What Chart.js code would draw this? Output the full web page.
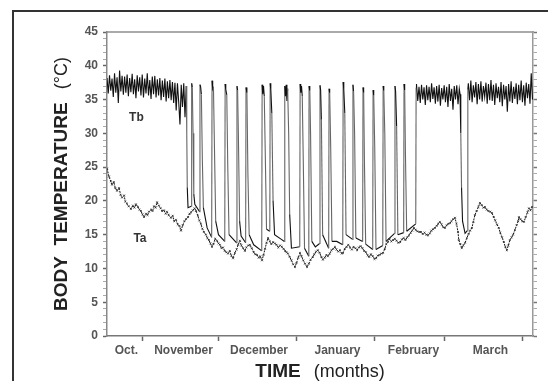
<!DOCTYPE html>
<html>
<head>
<meta charset="utf-8">
<script src="https://cdn.jsdelivr.net/npm/chart.js@4.4.1/dist/chart.umd.min.js"></script>
<style>
    html, body { margin: 0; padding: 0; background: #fff; }
    #wrap { position: relative; width: 556px; height: 381px; overflow: hidden; }
    #frame { position: absolute; left: 12px; top: 10px; width: 534px; height: 380px;
             border-left: 2px solid #333; border-top: 2px solid #333; }
    canvas { position: absolute; left: 0; top: 0; }
</style>
</head>
<body>
<div id="wrap">
    <div id="frame"></div>
    <canvas id="chart" width="556" height="381"></canvas>
</div>
<script>
// x is days counted from Oct 1 (Nov 1 = 31, Dec 1 = 61, ...)
const xMin = 16.7;
const xMax = 186;
const monthStarts = [31, 61, 92, 123, 151, 182];
const monthLabels = ["Oct.", "November", "December", "January", "February", "March"];
const monthLabelDays = [24.4, 47.1, 77.1, 108.3, 138.5, 169.1];

// logger step in the normothermic stretches (days)
const sampleStep = 0.5;

// Tb, normothermic Oct-Nov
const tbOctStart = 16.7;
const tbOctNov = [38.2, 35.9, 38.6, 36.3, 38.1, 35.4, 38.9, 36.0, 38.3, 34.5,
    39.3, 36.2, 38.5, 35.7, 38.4, 36.0, 38.7, 35.5, 38.2, 36.1,
    38.8, 35.8, 38.0, 35.2, 38.6, 36.2, 38.3, 35.6, 38.7, 35.3,
    38.1, 35.9, 38.9, 35.6, 37.9, 35.1, 38.4, 35.8, 38.5, 35.3,
    38.0, 35.6, 38.2, 34.9, 37.8, 35.4, 38.1, 34.7, 37.7, 35.2,
    37.9, 34.9, 37.6, 34.5, 37.5, 33.4, 37.4, 34.6, 31.3, 37.2,
    33.9, 37.4, 32.4, 37.0];

// Tb, torpor bouts with short arousals [day, °C]
const tbTorpor = [
    [48.4, 30.0], [48.6, 22.0], [48.9, 19.0], [50.2, 19.2],
    [50.35, 37.4], [50.6, 36.8], [50.9, 30.0], [51.2, 21.0], [51.6, 19.5], [53.5, 18.4],
    [53.65, 37.2], [53.9, 36.9], [54.2, 35.8], [54.6, 26.0], [55.0, 19.0], [56.5, 16.0], [58.3, 14.6],
    [58.45, 37.8], [58.7, 36.6], [59.0, 36.9], [59.4, 28.0], [59.9, 17.0], [61.0, 15.0], [63.5, 14.0],
    [63.65, 37.3], [63.9, 36.5], [64.3, 35.7], [64.7, 25.0], [65.2, 15.0], [68.2, 13.8],
    [68.35, 37.0], [68.6, 36.4], [68.9, 30.0], [69.4, 17.0], [70.0, 14.8], [71.8, 13.8],
    [71.95, 36.8], [72.3, 36.0], [72.7, 24.0], [73.2, 15.0], [75.0, 13.5], [78.2, 12.6],
    [78.35, 37.2], [78.6, 35.8], [78.9, 37.0], [79.2, 35.5], [79.6, 27.0], [80.1, 15.8], [81.4, 15.5],
    [81.55, 37.4], [81.8, 36.5], [82.2, 33.0], [82.7, 20.0], [83.3, 15.0], [86.0, 14.3], [87.2, 14.0],
    [87.35, 37.0], [87.6, 35.5], [87.9, 37.2], [88.2, 34.8], [88.5, 36.6], [88.9, 30.0], [89.3, 18.0], [90.0, 13.0], [93.3, 13.2],
    [93.45, 37.3], [93.7, 36.0], [94.0, 37.0], [94.3, 35.5], [94.7, 26.0], [95.2, 13.0], [96.9, 11.8],
    [97.0, 37.0], [97.3, 36.3], [97.6, 30.0], [98.1, 14.0], [99.5, 13.2], [101.2, 13.7],
    [101.35, 37.1], [101.6, 36.4], [101.9, 32.0], [102.4, 15.0], [104.8, 13.0],
    [104.95, 36.6], [105.2, 36.0], [105.6, 28.0], [106.1, 14.0], [108.0, 14.0], [110.4, 13.5],
    [110.55, 37.6], [110.8, 36.5], [111.2, 33.0], [111.7, 15.0], [114.3, 14.3],
    [114.45, 37.2], [114.7, 36.2], [115.1, 30.0], [115.6, 14.5], [118.3, 14.0],
    [118.45, 36.8], [118.7, 36.0], [119.0, 26.0], [119.5, 13.6], [122.3, 12.8],
    [122.45, 36.4], [122.7, 35.6], [123.1, 28.0], [123.6, 12.8], [126.3, 13.4],
    [126.45, 37.0], [126.7, 36.3], [127.1, 30.0], [127.6, 14.0], [131.0, 15.2],
    [131.15, 37.0], [131.4, 36.2], [131.8, 31.0], [132.3, 15.0], [134.6, 15.3],
    [134.75, 37.3], [135.0, 36.4], [135.3, 27.0], [135.8, 15.5], [139.4, 16.6],
    [139.55, 36.8]
];

// Tb, normothermic February
const tbFebStart = 139.7;
const tbFeb = [37.3, 34.8, 36.9, 34.5, 37.2, 35.0, 36.8, 34.2, 37.1, 34.9,
    36.9, 34.6, 37.4, 35.1, 36.8, 34.4, 37.0, 34.7, 37.2, 34.1,
    36.7, 35.0, 37.1, 34.6, 36.9, 33.9, 37.3, 34.8, 36.6, 33.5,
    37.0, 35.0, 37.1, 34.3, 36.6];

// Tb, last torpor bout late February
const tbLastBout = [[157.0, 35.8], [157.3, 30.0], [157.6, 22.0], [158.0, 17.0],
    [159.0, 15.2], [159.9, 15.6], [160.1, 36.5]];

// Tb, normothermic March
const tbMarStart = 160.3;
const tbMar = [37.4, 34.9, 37.8, 34.6, 37.1, 35.3, 37.6, 34.3, 37.3, 35.0,
    37.7, 34.7, 37.0, 35.4, 37.5, 34.4, 37.3, 34.9, 37.9, 34.8,
    37.2, 34.2, 37.4, 35.2, 36.9, 34.6, 37.6, 34.0, 37.2, 35.0,
    37.0, 33.2, 37.3, 34.7, 37.7, 34.5, 36.9, 35.1, 37.4, 34.3,
    37.2, 34.9, 37.8, 34.6, 37.1, 34.1, 37.5, 35.2, 37.3, 34.4,
    38.9, 35.0];

// Ta [day, °C]
const taReadings = [
    [16.7, 24.8], [17.5, 23.6], [18.2, 22.9], [18.7, 22.4], [19.4, 22.8], [20.0, 21.9], [20.7, 21.5],
    [21.5, 21.9], [22.1, 20.9], [22.7, 20.5], [23.5, 20.8], [24.0, 19.9], [24.6, 19.6], [25.3, 19.2],
    [26.2, 18.8], [27.0, 19.3], [27.6, 19.0], [28.2, 19.5], [29.0, 19.1], [29.6, 18.7], [30.2, 18.5],
    [30.8, 18.0], [31.4, 17.6], [32.2, 18.1], [32.8, 17.9], [33.4, 18.4], [34.2, 18.7], [34.8, 18.5],
    [35.4, 19.2], [36.0, 19.0], [36.6, 19.8], [37.3, 19.3], [38.0, 18.9], [38.6, 18.5], [39.3, 18.6],
    [40.0, 18.1], [40.5, 18.4], [41.2, 17.9], [42.1, 17.5], [42.8, 17.8], [43.4, 17.0], [44.1, 17.2],
    [44.8, 16.5], [45.5, 16.3], [46.1, 15.6], [46.8, 16.4], [47.5, 17.0], [48.1, 17.3], [48.9, 17.6],
    [49.5, 18.1], [50.1, 18.3], [50.8, 18.6], [51.5, 18.9], [52.1, 18.5], [52.8, 17.8], [53.4, 17.1],
    [54.0, 16.6], [54.6, 15.9], [55.2, 15.4], [56.0, 15.0], [56.6, 14.5], [57.2, 14.2], [57.8, 13.7],
    [58.4, 13.2], [59.0, 13.6], [59.7, 14.4], [60.4, 14.1], [61.0, 13.7], [61.6, 13.5], [62.2, 13.0],
    [62.8, 13.1], [63.5, 12.6], [64.1, 12.4], [64.8, 12.2], [65.5, 12.6], [66.1, 11.9], [66.8, 11.5],
    [67.5, 12.3], [68.2, 12.8], [68.8, 13.5], [69.5, 14.1], [70.1, 13.4], [70.8, 13.0], [71.5, 12.6],
    [72.1, 13.1], [72.8, 13.4], [73.5, 13.5], [74.2, 13.0], [75.0, 12.4], [75.6, 12.1], [76.3, 12.0],
    [77.0, 11.6], [77.6, 11.8], [78.3, 11.2], [78.9, 12.0], [79.5, 12.9], [80.1, 13.8], [80.7, 14.5],
    [81.4, 14.0], [82.0, 13.6], [82.7, 13.9], [83.4, 13.7], [84.1, 13.5], [84.8, 13.1], [85.5, 13.4],
    [86.2, 13.2], [86.9, 12.9], [87.5, 12.6], [88.0, 12.4], [88.6, 12.2], [89.3, 11.7], [90.0, 11.2],
    [90.7, 10.6], [91.4, 10.2], [92.0, 10.8], [92.7, 11.6], [93.4, 12.3], [94.0, 11.8], [94.7, 11.2],
    [95.4, 10.7], [96.2, 10.2], [96.9, 10.7], [97.6, 11.3], [98.5, 11.7], [99.1, 12.1], [99.8, 12.5],
    [100.5, 12.7], [101.2, 12.3], [101.9, 11.7], [102.5, 11.3], [103.2, 11.6], [103.9, 12.0], [104.5, 11.8],
    [105.2, 12.2], [105.9, 12.7], [106.6, 12.9], [107.3, 13.2], [107.9, 12.8], [108.6, 12.5], [109.3, 12.7],
    [110.0, 12.2], [110.5, 12.3], [111.2, 12.9], [111.9, 13.2], [112.6, 13.5], [113.3, 13.1], [114.0, 12.8],
    [114.7, 13.2], [115.4, 13.0], [116.1, 12.7], [116.8, 13.1], [117.5, 13.3], [118.2, 13.0], [118.9, 12.6],
    [119.6, 12.4], [120.3, 11.9], [120.9, 11.7], [121.6, 12.1], [122.3, 11.8], [123.0, 11.4], [123.6, 11.5],
    [124.3, 11.9], [125.0, 12.0], [125.7, 12.2], [126.4, 12.3], [127.1, 12.9], [127.7, 13.6], [128.3, 13.9],
    [129.0, 14.3], [129.7, 14.0], [130.4, 14.2], [131.1, 14.4], [131.8, 14.1], [132.5, 13.8], [133.2, 13.9],
    [133.9, 14.3], [134.6, 14.5], [135.3, 14.2], [136.0, 14.6], [136.7, 14.9], [137.4, 15.3], [138.0, 15.6],
    [138.7, 16.0], [139.4, 15.7], [140.0, 15.5], [140.8, 15.4], [141.5, 15.4], [142.2, 15.1], [142.9, 15.3],
    [143.6, 15.0], [144.3, 14.9], [145.0, 15.2], [145.6, 15.6], [146.3, 15.8], [147.0, 16.0], [147.7, 16.3],
    [148.3, 16.6], [149.0, 16.9], [149.7, 16.5], [150.3, 16.1], [151.0, 16.0], [151.7, 16.4], [152.3, 16.6],
    [153.0, 16.7], [153.6, 17.0], [154.3, 17.3], [155.0, 17.5], [155.6, 16.6], [156.2, 15.4], [156.5, 14.2],
    [157.1, 13.6], [157.7, 13.0], [158.3, 13.4], [159.0, 13.8], [159.7, 14.5], [160.4, 15.1], [161.0, 15.6],
    [161.7, 16.0], [162.3, 16.9], [162.9, 17.9], [163.6, 18.5], [164.3, 19.1], [164.9, 19.7], [165.6, 19.4],
    [166.3, 19.0], [166.9, 19.1], [167.6, 18.7], [168.3, 18.5], [169.0, 18.4], [169.7, 18.2], [170.4, 17.6],
    [171.0, 17.1], [171.7, 16.5], [172.4, 16.0], [173.0, 15.3], [173.7, 14.6], [174.4, 13.9], [175.0, 13.2],
    [175.6, 12.7], [176.2, 13.4], [176.8, 14.2], [177.5, 14.6], [178.1, 15.0], [178.8, 15.7], [179.5, 16.4],
    [180.1, 17.0], [180.4, 17.6], [181.0, 17.3], [181.7, 17.0], [182.4, 16.9], [183.1, 17.6], [183.8, 18.3],
    [184.4, 18.9], [185.0, 18.6], [185.6, 19.1]
];

// where the series names sit [day, °C]
const tbLabelAt = [28.4, 32.3];
const taLabelAt = [29.8, 14.35];

function sampled(start, temps) {
    return temps.map((t, i) => ({ x: start + i * sampleStep, y: t }));
}
function pairs(list) {
    return list.map(p => ({ x: p[0], y: p[1] }));
}

const tbPoints = [
    ...sampled(tbOctStart, tbOctNov),
    ...pairs(tbTorpor),
    ...sampled(tbFebStart, tbFeb),
    ...pairs(tbLastBout),
    ...sampled(tbMarStart, tbMar)
];
const taPoints = pairs(taReadings);

const FONT = '"Liberation Sans", Arial, sans-serif';

const textPlugin = {
    id: "textPlugin",
    afterDraw(chart) {
        const { ctx, chartArea: a, scales } = chart;
        ctx.save();
        ctx.fillStyle = "#222";
        ctx.textBaseline = "alphabetic";

        // x title
        const bold = "bold 19px " + FONT;
        const reg = "18px " + FONT;
        ctx.font = bold;
        const w1 = ctx.measureText("TIME").width;
        ctx.font = reg;
        const w2 = ctx.measureText("(months)").width;
        const gap = 13;
        let x0 = (a.left + a.right) / 2 - (w1 + gap + w2) / 2;
        ctx.font = bold;
        ctx.fillText("TIME", x0, 377);
        ctx.font = reg;
        ctx.fillText("(months)", x0 + w1 + gap, 377);

        // y title
        ctx.save();
        ctx.translate(67, (a.top + a.bottom) / 2);
        ctx.rotate(-Math.PI / 2);
        ctx.font = bold;
        const v1 = ctx.measureText("BODY  TEMPERATURE").width;
        ctx.font = reg;
        const v2 = ctx.measureText("(°C)").width;
        const y0 = -(v1 + gap + v2) / 2;
        ctx.font = bold;
        ctx.fillText("BODY  TEMPERATURE", y0, 0);
        ctx.font = reg;
        ctx.fillText("(°C)", y0 + v1 + gap, 0);
        ctx.restore();

        // series names
        ctx.font = "bold 12px " + FONT;
        ctx.fillStyle = "#333";
        ctx.textAlign = "center";
        ctx.textBaseline = "middle";
        ctx.fillText("Tb", scales.x.getPixelForValue(tbLabelAt[0]), scales.y.getPixelForValue(tbLabelAt[1]));
        ctx.fillText("Ta", scales.x.getPixelForValue(taLabelAt[0]), scales.y.getPixelForValue(taLabelAt[1]));
        ctx.restore();
    }
};

new Chart(document.getElementById("chart"), {
    type: "line",
    data: {
        datasets: [
            {
                label: "Tb",
                data: tbPoints,
                borderColor: "#111",
                borderWidth: 1.1,
                pointRadius: 0,
                tension: 0,
                // the steep arousal / cooling strokes print lighter than the dense band
                segment: {
                    borderColor: ctx => Math.abs(ctx.p1.parsed.y - ctx.p0.parsed.y) > 6 ? "#666" : "#111"
                }
            },
            {
                label: "Ta",
                data: taPoints,
                borderColor: "#111",
                borderWidth: 1,
                borderDash: [2, 1],
                pointRadius: 1.3,
                pointStyle: "crossRot",
                pointBorderColor: "#333",
                pointBorderWidth: 0.8,
                tension: 0
            }
        ]
    },
    options: {
        responsive: false,
        animation: false,
        layout: { padding: 0 },
        plugins: {
            legend: { display: false },
            tooltip: { enabled: false }
        },
        scales: {
            x: {
                type: "linear",
                position: "bottom",
                min: xMin,
                max: xMax,
                afterBuildTicks: scale => {
                    scale.ticks = monthStarts.concat(monthLabelDays)
                        .sort((a, b) => a - b)
                        .map(v => ({ value: v }));
                },
                afterFit: scale => { scale.height = 45; },
                ticks: {
                    autoSkip: false,
                    maxRotation: 0,
                    padding: 2,
                    color: "#555",
                    font: { family: FONT, size: 12, weight: "bold" },
                    callback: value => {
                        const i = monthLabelDays.indexOf(value);
                        return i >= 0 ? monthLabels[i] : "";
                    }
                },
                grid: {
                    drawOnChartArea: false,
                    tickLength: 5,
                    tickWidth: 1.5,
                    tickColor: ctx => monthStarts.includes(ctx.tick.value) ? "#666" : "rgba(0,0,0,0)"
                },
                border: { color: "#777", width: 1.5 }
            },
            x2: {
                type: "linear",
                position: "top",
                min: xMin,
                max: xMax,
                afterFit: scale => { scale.height = 32; },
                ticks: { display: false },
                grid: { display: false },
                border: { color: "#aaa", width: 2 }
            },
            y: {
                position: "left",
                min: 0,
                max: 45,
                afterFit: scale => { scale.width = 107; },
                ticks: {
                    stepSize: 1,
                    autoSkip: false,
                    padding: 5,
                    color: "#555",
                    font: { family: FONT, size: 12, weight: "bold" },
                    callback: value => value % 5 === 0 ? value : ""
                },
                grid: {
                    drawOnChartArea: false,
                    tickLength: 4,
                    tickWidth: ctx => ctx.tick.value % 5 === 0 ? 1.5 : 1,
                    tickColor: ctx => ctx.tick.value % 5 === 0 ? "#666" : "#aaa"
                },
                border: { color: "#888", width: 1.5 }
            },
            y2: {
                position: "right",
                min: 0,
                max: 45,
                afterFit: scale => { scale.width = 23; },
                ticks: { display: false, stepSize: 1, autoSkip: false },
                grid: {
                    drawOnChartArea: false,
                    tickLength: 4,
                    tickWidth: ctx => ctx.tick.value % 5 === 0 ? 1.5 : 1,
                    tickColor: ctx => ctx.tick.value % 5 === 0 ? "#777" : "#aaa"
                },
                border: { color: "#999", width: 1.5 }
            }
        }
    },
    plugins: [textPlugin]
});
</script>
</body>
</html>
